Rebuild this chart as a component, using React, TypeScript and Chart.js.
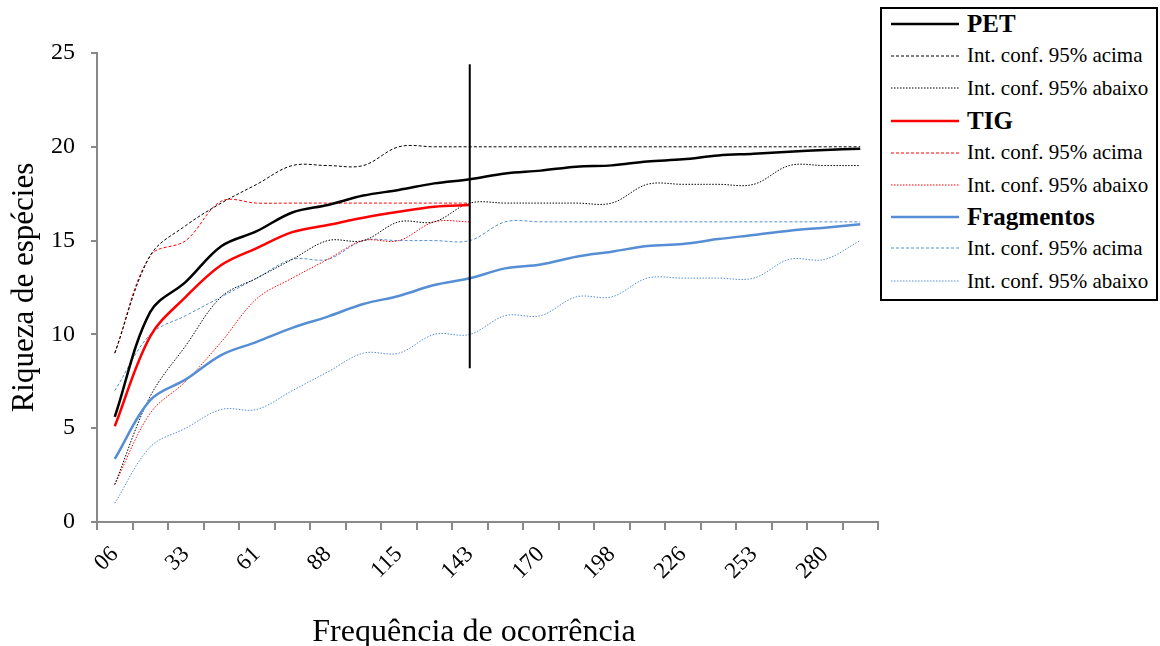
import React, { useEffect, useRef } from 'react';
import { Chart, registerables } from 'chart.js';

Chart.register(...registerables);

const categories = ['06', '20', '33', '47', '61', '74', '88', '102', '115', '129', '143', '157', '170', '184', '198', '212', '226', '239', '253', '267', '280', '294'];

const petValues = [5.6, 11.2, 12.8, 14.7, 15.5, 16.5, 16.9, 17.4, 17.7, 18.05, 18.27, 18.58, 18.73, 18.94, 19.01, 19.22, 19.33, 19.54, 19.63, 19.74, 19.83, 19.9];
const petUpper = [9, 14.2, 15.8, 17, 18, 19, 19, 19, 20, 20, 20, 20, 20, 20, 20, 20, 20, 20, 20, 20, 20, 20];
const petLower = [2, 6.7, 9.4, 12, 13, 14, 15, 15, 16, 16, 17, 17, 17, 17, 17, 18, 18, 18, 18, 19, 19, 19];

const tigValues = [5.1, 9.9, 12.0, 13.7, 14.6, 15.45, 15.83, 16.22, 16.54, 16.81, 16.9];
const tigUpper = [9, 14.2, 15, 17.1, 17, 17, 17, 17, 17, 17, 17];
const tigLower = [2, 5.8, 7.5, 9.6, 11.9, 13, 14, 15, 15, 16, 16];

const fragValues = [3.36, 6.5, 7.6, 8.9, 9.6, 10.35, 10.95, 11.62, 12.05, 12.63, 12.99, 13.52, 13.73, 14.14, 14.41, 14.71, 14.82, 15.08, 15.3, 15.53, 15.69, 15.87];
const fragUpper = [7, 10, 11, 12, 13, 14, 14, 15, 15, 15, 15, 16, 16, 16, 16, 16, 16, 16, 16, 16, 16, 16];
const fragLower = [1, 4, 5, 6, 6, 7, 8, 9, 9, 10, 10, 11, 11, 12, 12, 13, 13, 13, 13, 14, 14, 15];

const markerCategory = '143';
const markerRange = [24.4, 8.2];

const yTicks = [0, 5, 10, 15, 20, 25];

const xTitle = 'Frequência de ocorrência';
const yTitle = 'Riqueza de espécies';

const BLACK = '#000000';
const RED = '#FF0000';
const BLUE = '#558ED5';
const AXIS = '#898989';
const FONT = "'Liberation Serif', 'Times New Roman', Times, serif";

type Kind = 'main' | 'up' | 'low';

const dashFor = (k: Kind): number[] => (k === 'main' ? [] : k === 'up' ? [3, 2] : [1.5, 1.5]);
const widthFor = (k: Kind): number => (k === 'main' ? 2.5 : 1);

const legendItems: { label: string; color: string; kind: Kind }[] = [
  { label: 'PET', color: BLACK, kind: 'main' },
  { label: 'Int. conf. 95% acima', color: BLACK, kind: 'up' },
  { label: 'Int. conf. 95% abaixo', color: BLACK, kind: 'low' },
  { label: 'TIG', color: RED, kind: 'main' },
  { label: 'Int. conf. 95% acima', color: RED, kind: 'up' },
  { label: 'Int. conf. 95% abaixo', color: RED, kind: 'low' },
  { label: 'Fragmentos', color: BLUE, kind: 'main' },
  { label: 'Int. conf. 95% acima', color: BLUE, kind: 'up' },
  { label: 'Int. conf. 95% abaixo', color: BLUE, kind: 'low' },
];
const legendRowCenters = [15, 46.5, 79, 112, 143.5, 176, 208, 239, 272];

export default function App() {
  const ref = useRef<HTMLCanvasElement | null>(null);

  useEffect(() => {
    if (!ref.current) return;
    const mk = (label: string, data: number[], color: string, kind: Kind) => ({
      label,
      data,
      borderColor: color,
      backgroundColor: color,
      borderWidth: widthFor(kind),
      borderDash: dashFor(kind),
      pointRadius: 0,
      pointHoverRadius: 0,
      tension: 0.35,
      fill: false,
    });
    const chart = new Chart(ref.current, {
      type: 'line',
      data: {
        labels: categories,
        datasets: [
          {
            label: 'marker',
            data: [
              { x: markerCategory, y: markerRange[0] },
              { x: markerCategory, y: markerRange[1] },
            ] as any,
            borderColor: BLACK,
            borderWidth: 2,
            pointRadius: 0,
            tension: 0,
            fill: false,
          } as any,
          mk('PET', petValues, BLACK, 'main'),
          mk('TIG', tigValues, RED, 'main'),
          mk('Fragmentos', fragValues, BLUE, 'main'),
          mk('PET acima', petUpper, BLACK, 'up'),
          mk('PET abaixo', petLower, BLACK, 'low'),
          mk('TIG acima', tigUpper, RED, 'up'),
          mk('TIG abaixo', tigLower, RED, 'low'),
          mk('Frag acima', fragUpper, BLUE, 'up'),
          mk('Frag abaixo', fragLower, BLUE, 'low'),
        ],
      },
      options: {
        responsive: false,
        animation: false,
        events: [],
        layout: { padding: { left: 0, top: 53, right: 282, bottom: 0 } },
        plugins: { legend: { display: false }, tooltip: { enabled: false } },
        scales: {
          x: {
            type: 'category',
            offset: true,
            grid: {
              offset: true,
              drawOnChartArea: false,
              drawTicks: true,
              tickLength: 8,
              color: AXIS,
              lineWidth: 2,
            },
            border: { display: true, color: AXIS, width: 2 },
            ticks: {
              autoSkip: false,
              minRotation: 45,
              maxRotation: 45,
              padding: 11,
              color: BLACK,
              font: { family: FONT, size: 23 },
              callback: (_v: any, i: number) => (i % 2 === 0 ? categories[i] : ''),
            },
            title: { display: false },
            afterFit: (s: any) => {
              s.height = 124;
            },
          },
          y: {
            min: 0,
            max: 25,
            afterBuildTicks: (s: any) => {
              s.ticks = yTicks.map((v) => ({ value: v }));
            },
            ticks: {
              padding: 16,
              color: BLACK,
              font: { family: FONT, size: 24 },
            },
            grid: {
              drawOnChartArea: false,
              drawTicks: true,
              tickLength: 6,
              color: AXIS,
              lineWidth: 2,
            },
            border: { display: true, color: AXIS, width: 2 },
            title: {
              display: true,
              text: yTitle,
              color: BLACK,
              font: { family: FONT, size: 31 },
              padding: { top: 6, bottom: 0 },
            },
            afterFit: (s: any) => {
              s.width = 97;
            },
          },
        },
      } as any,
    });
    return () => chart.destroy();
  }, []);

  return (
    <div style={{ position: 'absolute', left: 0, top: 0, width: 1160, height: 646, background: '#fff' }}>
      <canvas ref={ref} width={1160} height={646} style={{ width: 1160, height: 646, display: 'block' }} />
      <div
        style={{
          position: 'absolute',
          left: 274,
          width: 400,
          top: 610,
          height: 40,
          lineHeight: '40px',
          textAlign: 'center',
          fontFamily: FONT,
          fontSize: 32,
          color: '#000',
          whiteSpace: 'nowrap',
        }}
      >
        {xTitle}
      </div>
      <div
        style={{
          position: 'absolute',
          left: 880,
          top: 7,
          width: 278,
          height: 294,
          boxSizing: 'border-box',
          border: '2px solid #000',
          background: '#fff',
          fontFamily: FONT,
          color: '#000',
        }}
      >
        {legendItems.map((it, i) => (
          <div
            key={i}
            style={{
              position: 'absolute',
              left: 0,
              top: legendRowCenters[i] - 16,
              height: 32,
              display: 'flex',
              alignItems: 'center',
              whiteSpace: 'nowrap',
            }}
          >
            <svg width={68} height={6} style={{ marginLeft: 9, display: 'block' }}>
              <line
                x1={0}
                y1={3}
                x2={68}
                y2={3}
                stroke={it.color}
                strokeWidth={widthFor(it.kind)}
                strokeDasharray={dashFor(it.kind).join(' ') || undefined}
              />
            </svg>
            <span
              style={{
                marginLeft: 8,
                fontSize: it.kind === 'main' ? 25 : 21,
                fontWeight: it.kind === 'main' ? 700 : 400,
                lineHeight: 'normal',
              }}
            >
              {it.label}
            </span>
          </div>
        ))}
      </div>
    </div>
  );
}
